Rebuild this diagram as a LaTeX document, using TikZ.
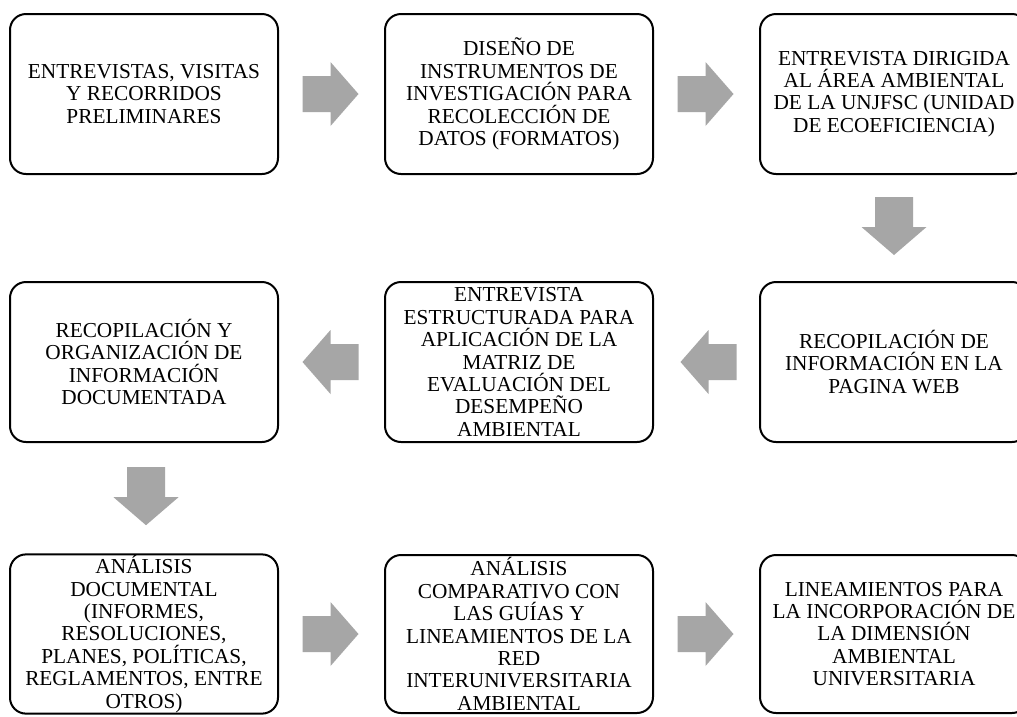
\documentclass[tikz,border=0pt]{standalone}
\usepackage{fontspec}
\setmainfont{Liberation Serif}
\usetikzlibrary{calc}
\definecolor{arrowgray}{RGB}{166,166,166}
\tikzset{
  stepbox/.style={draw=black, line width=2pt, rounded corners=16pt, fill=white,
    minimum width=268pt, minimum height=160pt, inner sep=1pt, align=center,
    font=\fontsize{21.3}{22.4}\selectfont},
  harrow/.pic={\fill[arrowgray] (-28,-18) -- (0,-18) -- (0,-32) -- (28,0) -- (0,32) -- (0,18) -- (-28,18) -- cycle;},
  varrow/.pic={\fill[arrowgray] (-19,-29) -- (19,-29) -- (19,1) -- (32.5,1) -- (0,29) -- (-32.5,1) -- (-19,1) -- cycle;}
}
\begin{document}
\begin{tikzpicture}[x=1pt,y=-1pt]
\useasboundingbox (0,0) rectangle (1017,716);
\fill[white] (0,0) rectangle (1017,716);
% row 1
\node[stepbox] (b1) at (144,94) {ENTREVISTAS, VISITAS\\Y RECORRIDOS\\PRELIMINARES};
\node[stepbox] (b2) at (519,94) {DISEÑO DE\\INSTRUMENTOS DE\\INVESTIGACIÓN PARA\\RECOLECCIÓN DE\\DATOS (FORMATOS)};
\node[stepbox] (b3) at (894,94) {ENTREVISTA DIRIGIDA\\AL ÁREA AMBIENTAL\\DE LA UNJFSC (UNIDAD\\DE ECOEFICIENCIA)};
% row 2
\node[stepbox] (b4) at (894,362) {RECOPILACIÓN DE\\INFORMACIÓN EN LA\\PAGINA WEB};
\node[stepbox] (b5) at (519,362) {ENTREVISTA\\ESTRUCTURADA PARA\\APLICACIÓN DE LA\\MATRIZ DE\\EVALUACIÓN DEL\\DESEMPEÑO\\AMBIENTAL};
\node[stepbox] (b6) at (144,362) {RECOPILACIÓN Y\\ORGANIZACIÓN DE\\INFORMACIÓN\\DOCUMENTADA};
% row 3
\node[stepbox, minimum height=158pt] (b7) at (144,634) {ANÁLISIS\\DOCUMENTAL\\(INFORMES,\\RESOLUCIONES,\\PLANES, POLÍTICAS,\\REGLAMENTOS, ENTRE\\OTROS)};
\node[stepbox, minimum height=158pt] (b8) at (519,634) {ANÁLISIS\\COMPARATIVO CON\\LAS GUÍAS Y\\LINEAMIENTOS DE LA\\RED\\INTERUNIVERSITARIA\\AMBIENTAL};
\node[stepbox, minimum height=158pt] (b9) at (894,634) {LINEAMIENTOS PARA\\LA INCORPORACIÓN DE\\LA DIMENSIÓN\\AMBIENTAL\\UNIVERSITARIA};
% block arrows
\pic at ($(b1.east)!0.5!(b2.west)+(-1,0)$) {harrow};
\pic at ($(b2.east)!0.5!(b3.west)+(-1,0)$) {harrow};
\pic at ($(b3.south)!0.5!(b4.north)+(0,-2)$) {varrow};
\pic[xscale=-1] at ($(b4.west)!0.5!(b5.east)+(2,0)$) {harrow};
\pic[xscale=-1] at ($(b5.west)!0.5!(b6.east)+(-1,0)$) {harrow};
\pic at ($(b6.south)!0.5!(b7.north)+(2,-2)$) {varrow};
\pic at ($(b7.east)!0.5!(b8.west)+(-1,0)$) {harrow};
\pic at ($(b8.east)!0.5!(b9.west)+(-1,0)$) {harrow};
\end{tikzpicture}
\end{document}
